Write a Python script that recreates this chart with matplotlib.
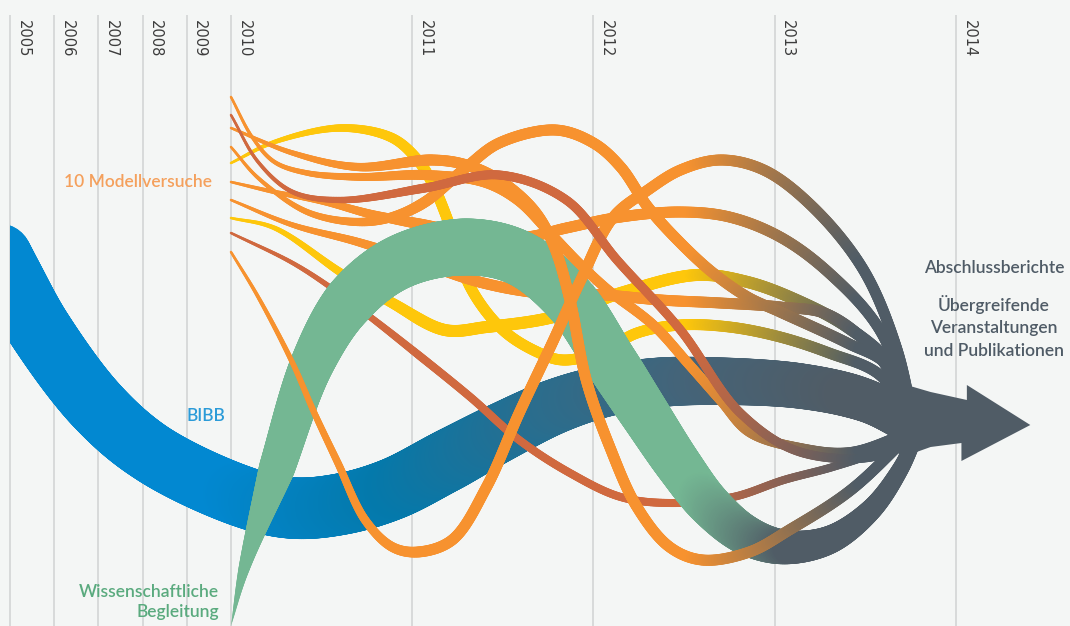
import numpy as np
import matplotlib
matplotlib.use('Agg')
import matplotlib.pyplot as plt
from matplotlib.collections import LineCollection
from matplotlib.colors import to_rgb
from matplotlib.patches import Polygon, Rectangle

DPI = 100
SLATE = '#505c66'

# year grid
years = list(range(2005, 2015))
year_labels = [str(y) for y in years]

# BIBB band (x in years, y in picture rows from top)
bibb_x = [2004.32, 2005.00, 2005.68, 2006.97, 2008.24, 2010.07, 2010.34, 2010.61, 2010.89,
          2011.18, 2011.48, 2011.78, 2012.04, 2012.33, 2012.59, 2013.14, 2013.51, 2013.76]
bibb_y = [220, 277, 330, 406, 454, 497, 508, 504, 489, 462, 433, 407, 392, 383, 381, 386, 401, 425]

# Wissenschaftliche Begleitung
wb_x = [2010.00, 2010.07, 2010.25, 2010.45, 2010.66, 2010.93, 2011.29, 2011.59, 2011.87, 2012.09,
        2012.28, 2012.47, 2012.64, 2012.84, 2013.05, 2013.30, 2013.53, 2013.69, 2013.79]
wb_y = [626, 570, 470, 363, 300, 262, 247, 258, 300, 360, 413, 465, 505, 535, 547, 540, 510, 470, 432]

# 10 Modellversuche
y1_x = [2010.00, 2010.24, 2010.61, 2010.89, 2011.03, 2011.11, 2011.21, 2011.32, 2011.50, 2011.69,
        2011.83, 2012.04, 2012.24, 2012.48, 2012.75, 2013.03, 2013.30, 2013.58, 2013.77]
y1_y = [163, 142, 128, 138, 160, 183, 227, 287, 330, 352, 360, 352, 333, 325, 327, 337, 353, 375, 425]

y2_x = [2010.00, 2010.24, 2010.61, 2010.89, 2011.18, 2011.41, 2011.78, 2012.15, 2012.57, 2012.85,
        2013.12, 2013.40, 2013.64, 2013.77]
y2_y = [218, 228, 273, 303, 330, 327, 317, 293, 275, 282, 300, 327, 365, 425]

r1_x = [2010.00, 2010.15, 2010.34, 2010.61, 2011.07, 2011.48, 2011.85, 2012.13, 2012.48, 2012.81,
        2013.14, 2013.58, 2013.77]
r1_y = [115, 162, 192, 200, 188, 175, 200, 260, 330, 413, 452, 455, 430]

r2_x = [2010.00, 2010.34, 2010.57, 2010.79, 2011.00, 2011.32, 2011.59, 2011.87, 2012.15, 2012.42,
        2012.77, 2013.05, 2013.32, 2013.56, 2013.77]
r2_y = [233, 263, 290, 320, 350, 397, 440, 473, 497, 503, 497, 480, 467, 452, 430]

oa_x = [2010.00, 2010.15, 2010.42, 2010.70, 2010.89, 2011.07, 2011.30, 2011.48, 2011.79, 2012.00,
        2012.15, 2012.30, 2012.48, 2012.66, 2012.85, 2013.03, 2013.40, 2013.62, 2013.77]
oa_y = [147, 178, 212, 222, 217, 202, 167, 143, 130, 143, 167, 207, 243, 273, 297, 312, 343, 365, 425]

ob_x = [2010.00, 2010.24, 2010.52, 2010.79, 2011.07, 2011.35, 2011.63, 2011.85, 2012.15, 2012.48,
        2012.75, 2013.03, 2013.30, 2013.58, 2013.77]
ob_y = [182, 192, 202, 215, 225, 235, 237, 228, 217, 212, 217, 237, 273, 330, 420]

oc_x = [2010.00, 2010.34, 2010.70, 2011.04, 2011.37, 2011.70, 2012.06, 2012.37, 2012.70, 2013.03,
        2013.30, 2013.58, 2013.77]
oc_y = [200, 225, 242, 262, 282, 293, 295, 300, 303, 307, 315, 357, 425]

od_x = [2010.00, 2010.34, 2010.70, 2011.11, 2011.30, 2011.48, 2011.67, 2011.78, 2011.87, 2011.96,
        2012.09, 2012.24, 2012.42, 2012.60, 2012.86, 2013.08, 2013.42, 2013.77]
od_y = [128, 153, 167, 160, 165, 180, 210, 245, 300, 380, 447, 507, 547, 560, 552, 530, 490, 430]

oe_x = [2010.00, 2010.12, 2010.24, 2010.42, 2010.70, 2011.07, 2011.39, 2011.58, 2011.76, 2011.93,
        2012.08, 2012.33, 2012.52, 2012.70, 2012.86, 2013.14, 2013.42, 2013.77]
oe_y = [97, 138, 162, 173, 177, 175, 182, 200, 233, 265, 290, 325, 363, 400, 432, 448, 452, 430]

of_x = [2010.00, 2010.15, 2010.34, 2010.46, 2010.59, 2010.74, 2010.89, 2011.03, 2011.22, 2011.41,
        2011.59, 2011.78, 2011.93, 2012.11, 2012.30, 2012.48, 2012.70, 2012.94, 2013.21, 2013.49,
        2013.67, 2013.77]
of_y = [252, 297, 363, 413, 463, 520, 547, 552, 540, 487, 413, 340, 280, 217, 190, 170, 160, 170,
        207, 270, 347, 425]

# arrow into the final outputs
arrow_x = [2013.69, 2013.86, 2014.06, 2014.06, 2014.41, 2014.03, 2014.03, 2013.86, 2013.69, 2013.64]
arrow_y = [383, 392, 400, 385, 425, 461, 443, 447, 458, 425]

ORANGE, RED, YELLOW, GREEN = '#f7922f', '#d0693f', '#fec70b', '#74b793'

K = 44.2 / 181.25


def fwd(x):
    x = np.asarray(x, float)
    return np.where(x < 2010, 2010 + (x - 2010) * K, x)


def inv(p):
    p = np.asarray(p, float)
    return np.where(p < 2010, 2010 + (p - 2010) / K, p)


fig = plt.figure(figsize=(10.7, 6.26), dpi=DPI, facecolor='#f4f6f5')
ax = fig.add_axes([0, 0, 1, 1])
ax.set_facecolor('#f4f6f5')
ax.set_xscale('function', functions=(fwd, inv))
ax.set_xlim(2004.774, 2014.629)
ax.set_ylim(626, 0)
ax.axis('off')


def cr_segment(p0, p1, p2, p3, n):
    def tj(ti, a, b):
        return ti + max(np.hypot(*(b - a)), 1e-6) ** 0.5
    t0 = 0.0
    t1 = tj(t0, p0, p1)
    t2 = tj(t1, p1, p2)
    t3 = tj(t2, p2, p3)
    t = np.linspace(t1, t2, n, endpoint=False)[:, None]
    a1 = (t1 - t) / (t1 - t0) * p0 + (t - t0) / (t1 - t0) * p1
    a2 = (t2 - t) / (t2 - t1) * p1 + (t - t1) / (t2 - t1) * p2
    a3 = (t3 - t) / (t3 - t2) * p2 + (t - t2) / (t3 - t2) * p3
    b1 = (t2 - t) / (t2 - t0) * a1 + (t - t0) / (t2 - t0) * a2
    b2 = (t3 - t) / (t3 - t1) * a2 + (t - t1) / (t3 - t1) * a3
    return (t2 - t) / (t2 - t1) * b1 + (t - t1) / (t2 - t1) * b2


def smooth(xs, ys):
    # smooth curve through the points, built in display space
    pts = ax.transData.transform(np.column_stack([xs, ys]))
    p = np.vstack([2 * pts[0] - pts[1], pts, 2 * pts[-1] - pts[-2]])
    out = []
    for i in range(1, len(p) - 2):
        n = max(4, int(np.hypot(*(p[i + 1] - p[i])) / 1.5))
        out.append(cr_segment(p[i - 1], p[i], p[i + 1], p[i + 2], n))
    out.append(p[-2][None])
    return np.vstack(out)


def fade(base, x0=690, x1=860):
    c0, c1 = np.array(to_rgb(base)), np.array(to_rgb(SLATE))

    def f(px):
        t = np.clip((px - x0) / (x1 - x0), 0, 1)[:, None]
        return (1 - t) * c0 + t * c1
    return f


def stops(xs, cols):
    rgb = np.array([to_rgb(c) for c in cols])

    def f(px):
        return np.column_stack([np.interp(px, xs, rgb[:, k]) for k in range(3)])
    return f


def grow(w0, w1, x0=231, x1=420):
    def f(px):
        return w0 + (w1 - w0) * np.clip((px - x0) / (x1 - x0), 0, 1)
    return f


def band(xs, ys, width_fn, color_fn, z):
    d = smooth(xs, ys)
    mid = (d[:-1, 0] + d[1:, 0]) / 2
    data = ax.transData.inverted().transform(d)
    segs = np.stack([data[:-1], data[1:]], axis=1)
    lc = LineCollection(segs, linewidths=width_fn(mid) * 72 / DPI, colors=color_fn(mid),
                        capstyle='round', joinstyle='round', zorder=z)
    ax.add_collection(lc)
    return lc


# grid
ax.vlines(years, 15, 626, color='#d5d8d8', lw=1.3, zorder=0)
for yr, lbl in zip(years, year_labels):
    ax.annotate(lbl, xy=(yr, 20), xytext=(4, 0), textcoords='offset points', rotation=-90,
                ha='left', va='top', fontsize=10.5, color='#3c3c3c', zorder=1)

bibb = band(bibb_x, bibb_y,
            lambda px: np.interp(px, [0, 40, 150, 450, 600, 700, 850, 915], [66, 64, 61, 62, 52, 48, 44, 40]),
            stops([231, 400, 560, 700, 850], ['#0288d1', '#0479ab', '#2b6d8d', '#446479', SLATE]), 2)
bibb.set_clip_path(Rectangle((2005, -100), 20, 900, transform=ax.transData))

under = [(y1_x, y1_y, YELLOW, 11), (y2_x, y2_y, YELLOW, 12), (r2_x, r2_y, RED, 8),
         (ob_x, ob_y, ORANGE, 11), (oc_x, oc_y, ORANGE, 11)]
for xs, ys, col, w in under:
    band(xs, ys, grow(2.5, w), fade(col), 3)

band(wb_x, wb_y,
     lambda px: np.interp(px, [231, 244, 277, 350, 465, 620, 745, 830, 918], [0, 11, 36, 52, 57, 52, 40, 28, 14]),
     fade(GREEN, 700, 790), 4)

over = [(of_x, of_y, ORANGE, 11), (od_x, od_y, ORANGE, 11), (oa_x, oa_y, ORANGE, 11),
        (oe_x, oe_y, ORANGE, 10), (r1_x, r1_y, RED, 9)]
for xs, ys, col, w in over:
    band(xs, ys, grow(2.5, w), fade(col), 5)

ax.add_patch(Polygon(np.column_stack([arrow_x, arrow_y]), closed=True, color=SLATE, zorder=6, lw=0))

lab = dict(family='Lato', fontsize=12.5, fontweight='semibold', zorder=7)
ax.text(2009.57, 182, '10 Modellversuche', ha='right', va='center', color='#f4a05c', **lab)
ax.text(2009.86, 416, 'BIBB', ha='right', va='center', color='#2b9bd8', **lab)
ax.text(2009.73, 602, 'Wissenschaftliche\nBegleitung', ha='right', va='center', color='#5aaa7e',
        linespacing=1.3, **lab)
ax.text(2014.21, 268, 'Abschlussberichte', ha='center', va='center', color='#4f5b66', **lab)
ax.text(2014.21, 327, 'Übergreifende\nVeranstaltungen\nund Publikationen', ha='center', va='center',
        color='#4f5b66', linespacing=1.5, **lab)

fig.savefig('out.png', dpi=DPI, facecolor=fig.get_facecolor())
